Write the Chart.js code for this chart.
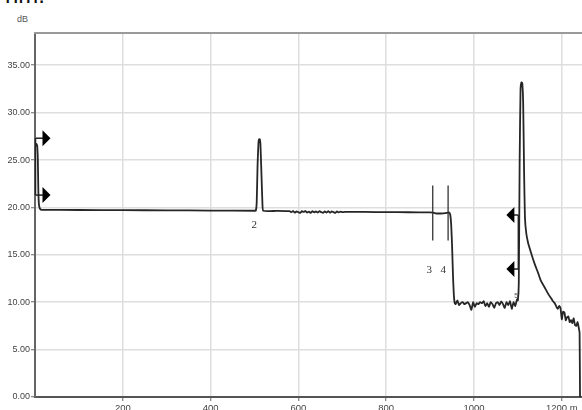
<!DOCTYPE html>
<html>
<head>
<meta charset="utf-8">
<script src="https://cdn.jsdelivr.net/npm/chart.js@4/dist/chart.umd.min.js"></script>
<style>
  html, body { margin: 0; padding: 0; background: #fff; overflow: hidden; }
  #wrap { position: relative; width: 582px; height: 410px; }
  #c { position: absolute; left: 0; top: 0; }
  .unit { position: absolute; left: 17px; top: 14px; font: 9px "Liberation Sans", Arial, sans-serif; color: #555; }
  .cut { position: absolute; left: 5px; top: -17px; font: 24px/24px "Liberation Sans", Arial, sans-serif; color: #111; }
</style>
</head>
<body>
<div id="wrap">
  <div class="cut">nm.</div>
  <div class="unit">dB</div>
  <canvas id="c" width="582" height="410"></canvas>
</div>
<script>
// ---- data (distance in metres, loss in dB) ----
const distM = [
  0, 3, 5, 6.5, 7.5, 9, 12, 16, 100, 200, 300, 400, 500,
  503, 505, 507, 509, 510.5, 512, 513.5, 515.5, 518, 520, 550, 580,
  584, 588, 592, 596, 600, 604, 608, 612, 616, 620, 624, 628, 632, 636, 640,
  644, 648, 652, 656, 660, 664, 668, 672, 676, 680, 684, 688, 692, 696, 700, 706,
  750, 800, 850, 900, 906, 912, 920, 930, 938, 942, 944, 946, 948, 950, 952, 954, 956,
  958, 962, 966, 970, 974, 978, 982, 986, 990, 994, 998, 1002, 1006, 1010, 1014, 1018,
  1022, 1026, 1030, 1034, 1038, 1042, 1046, 1050, 1054, 1058, 1062, 1066, 1070, 1074,
  1078, 1082, 1086, 1090, 1094, 1098,
  1100, 1102, 1104, 1106, 1108, 1110, 1112, 1114, 1116, 1119, 1123, 1128, 1134, 1140,
  1146, 1152, 1158, 1164, 1170, 1176, 1180, 1184, 1188, 1191, 1194, 1197, 1200, 1203,
  1206, 1209, 1212, 1215, 1218, 1221, 1224, 1227, 1230, 1233, 1236, 1239, 1240.5, 1241.5
];
const lossDb = [
  26.4, 26.7, 26.5, 25.0, 22.0, 20.3, 19.8, 19.75, 19.73, 19.71, 19.69, 19.67, 19.65,
  19.65, 20.5, 24.5, 26.8, 27.2, 27.2, 26.7, 24.0, 20.5, 19.64, 19.63, 19.6,
  19.5, 19.62, 19.45, 19.58, 19.5, 19.42, 19.6, 19.52, 19.62, 19.45, 19.56, 19.42, 19.6, 19.48, 19.58,
  19.45, 19.6, 19.5, 19.42, 19.58, 19.46, 19.6, 19.44, 19.57, 19.5, 19.42, 19.58, 19.47, 19.55, 19.5, 19.52,
  19.52, 19.5, 19.49, 19.48, 19.46, 19.38, 19.36, 19.38, 19.42, 19.48, 19.45, 19.2, 18.2, 16.0, 13.0, 10.8, 9.9,
  9.8, 10.2, 9.7, 9.9, 10.0, 9.8, 9.9, 10.0, 9.7, 9.2, 10.0, 9.5, 9.9, 9.8, 10.0, 9.9,
  10.1, 9.6, 9.9, 9.5, 10.0, 9.8, 9.4, 9.9, 10.0, 9.7, 10.1, 9.8, 9.4, 10.0,
  9.7, 10.1, 9.3, 10.0, 9.6, 10.3,
  10.2, 12.0, 25.0, 32.5, 33.2, 33.1, 31.0, 24.0, 19.0, 17.3, 16.3, 15.5, 14.6, 13.8,
  13.1, 12.3, 11.8, 11.3, 10.8, 10.4, 10.1, 9.9, 9.5, 9.3, 9.6, 9.4, 8.2, 9.0,
  8.9, 8.1, 8.4, 8.5, 7.9, 8.1, 7.8, 8.3, 7.6, 7.5, 7.9, 7.2, 6.8, 0
];

const xTicks = [200, 400, 600, 800, 1000, 1200];
const yTicks = [0, 5, 10, 15, 20, 25, 30, 35];

// markers (data units)
const leftArrowDist = 0;
const leftArrowLoss = [27.3, 21.3];
const rightArrowDist = 1101;
const rightArrowLoss = [19.2, 13.5];
const eventLineDist = [906, 941];
const eventLineLoss = [16.5, 22.3];
const eventLabels = ['2', '3', '4'];
const eventLabelDist = [499.5, 898, 930];
const eventLabelLoss = [18.1, 13.4, 13.4];
const smallLabel = '5';
const smallLabelDist = 1096;
const smallLabelLoss = 10.7;

const X_MIN = 0, X_MAX = 1246, Y_MIN = 0, Y_MAX = 38.4;

const points = distM.map((d, i) => ({ x: d, y: lossDb[i] }));

const overlay = {
  id: 'overlay',
  afterDatasetsDraw(chart) {
    const { ctx, chartArea: a, scales: { x, y } } = chart;
    ctx.save();
    ctx.strokeStyle = '#999';
    ctx.lineWidth = 2;
    ctx.beginPath(); ctx.moveTo(a.left - 1, a.top); ctx.lineTo(a.right, a.top); ctx.stroke();

    ctx.strokeStyle = '#222';
    ctx.fillStyle = '#000';
    ctx.lineWidth = 1.5;
    const lx = x.getPixelForValue(leftArrowDist) + 0.5;
    const ly0 = y.getPixelForValue(leftArrowLoss[0]);
    const ly1 = y.getPixelForValue(leftArrowLoss[1]);
    ctx.beginPath(); ctx.moveTo(lx, ly0); ctx.lineTo(lx, ly1); ctx.stroke();
    leftArrowLoss.forEach(v => {
      const py = y.getPixelForValue(v);
      ctx.beginPath(); ctx.moveTo(lx, py); ctx.lineTo(lx + 8, py); ctx.stroke();
      ctx.beginPath(); ctx.moveTo(lx + 7, py - 8); ctx.lineTo(lx + 15, py); ctx.lineTo(lx + 7, py + 8); ctx.closePath(); ctx.fill();
    });
    const rx = x.getPixelForValue(rightArrowDist);
    const ry0 = y.getPixelForValue(rightArrowLoss[0]);
    const ry1 = y.getPixelForValue(rightArrowLoss[1]);
    ctx.beginPath(); ctx.moveTo(rx, ry0); ctx.lineTo(rx, ry1); ctx.stroke();
    rightArrowLoss.forEach(v => {
      const py = y.getPixelForValue(v);
      ctx.beginPath(); ctx.moveTo(rx, py); ctx.lineTo(rx - 5, py); ctx.stroke();
      ctx.beginPath(); ctx.moveTo(rx - 4, py - 8); ctx.lineTo(rx - 12, py); ctx.lineTo(rx - 4, py + 8); ctx.closePath(); ctx.fill();
    });
    ctx.strokeStyle = '#333';
    ctx.lineWidth = 1.3;
    eventLineDist.forEach(d => {
      const px = x.getPixelForValue(d);
      ctx.beginPath();
      ctx.moveTo(px, y.getPixelForValue(eventLineLoss[1]));
      ctx.lineTo(px, y.getPixelForValue(eventLineLoss[0]));
      ctx.stroke();
    });
    ctx.fillStyle = '#333';
    ctx.font = '11px "Liberation Serif", "DejaVu Serif", serif';
    ctx.textAlign = 'center';
    ctx.textBaseline = 'middle';
    eventLabels.forEach((t, i) => {
      ctx.fillText(t, x.getPixelForValue(eventLabelDist[i]), y.getPixelForValue(eventLabelLoss[i]));
    });
    ctx.font = '7px "Liberation Sans", Arial, sans-serif';
    ctx.fillStyle = '#555';
    ctx.fillText(smallLabel, x.getPixelForValue(smallLabelDist), y.getPixelForValue(smallLabelLoss));
    ctx.restore();
  }
};

new Chart(document.getElementById('c'), {
  type: 'line',
  data: {
    datasets: [{
      data: points,
      borderColor: '#262626',
      borderWidth: 1.8,
      pointRadius: 0,
      tension: 0.15,
      fill: false
    }]
  },
  options: {
    responsive: false,
    devicePixelRatio: 1,
    animation: false,
    layout: { padding: { top: 33, right: 0, left: 0, bottom: 0 } },
    plugins: { legend: { display: false }, tooltip: { enabled: false } },
    scales: {
      x: {
        type: 'linear',
        min: X_MIN, max: X_MAX,
        afterBuildTicks: s => { s.ticks = xTicks.map(v => ({ value: v })); },
        afterFit: s => { s.height = 13; },
        ticks: {
          includeBounds: false,
          maxRotation: 0,
          autoSkip: false,
          padding: 2,
          color: '#444',
          font: { family: '"Liberation Sans", Arial, sans-serif', size: 9.5 },
          callback: v => v === 1200 ? '1200 m' : String(v)
        },
        grid: { color: '#dedede', lineWidth: 1.5, tickLength: 4, tickColor: '#666', tickWidth: 1 },
        border: { display: true, color: '#555', width: 2 }
      },
      y: {
        type: 'linear',
        min: Y_MIN, max: Y_MAX,
        afterBuildTicks: s => { s.ticks = yTicks.map(v => ({ value: v })); },
        afterFit: s => { s.width = 35; },
        ticks: {
          includeBounds: false,
          padding: 1,
          color: '#444',
          font: { family: '"Liberation Sans", Arial, sans-serif', size: 9 },
          callback: v => Number(v).toFixed(2)
        },
        grid: { color: '#dedede', lineWidth: 1.5, tickLength: 4, tickColor: '#666', tickWidth: 1 },
        border: { display: true, color: '#666', width: 2 }
      }
    }
  },
  plugins: [overlay]
});
</script>
</body>
</html>
